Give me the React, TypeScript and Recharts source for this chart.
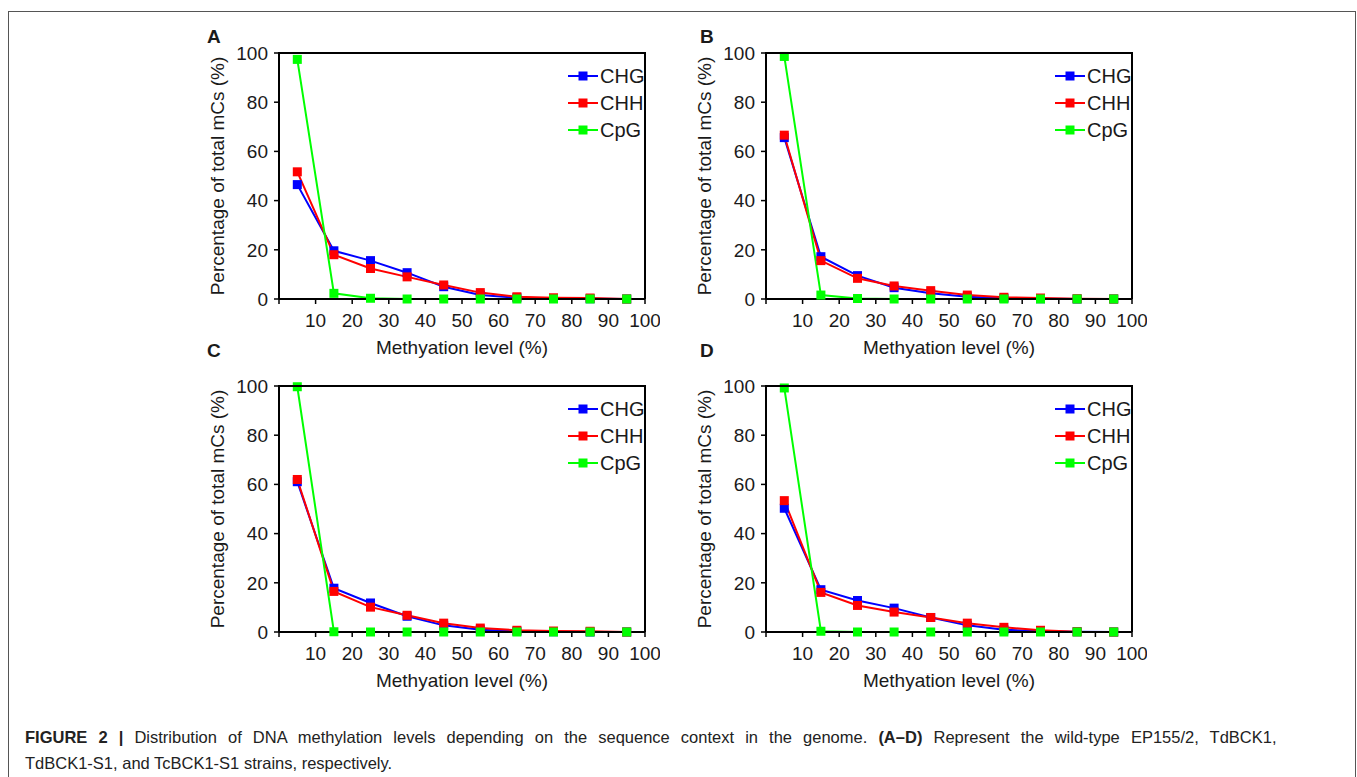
import React from "react";
import { LineChart, Line, XAxis, YAxis, Legend, ReferenceLine } from "recharts";

const levels = [5, 15, 25, 35, 45, 55, 65, 75, 85, 95];
const xTicks = [0, 10, 20, 30, 40, 50, 60, 70, 80, 90, 100];
const yTicks = [0, 20, 40, 60, 80, 100];

const chgA = [46.5, 19.6, 15.6, 10.7, 5.0, 1.6, 0.5, 0.2, 0.1, 0];
const chhA = [51.7, 18.0, 12.4, 9.0, 5.7, 2.6, 0.9, 0.5, 0.4, 0];
const cpgA = [97.4, 2.3, 0.3, 0, 0, 0, 0, 0, 0, 0];

const chgB = [65.6, 17.2, 9.5, 4.6, 2.3, 0.9, 0.3, 0.1, 0, 0];
const chhB = [66.6, 15.6, 8.4, 5.3, 3.4, 1.6, 0.7, 0.4, 0.1, 0];
const cpgB = [98.6, 1.6, 0.2, 0, 0, 0, 0, 0, 0, 0];

const chgC = [61.1, 17.8, 11.8, 6.4, 2.7, 0.9, 0.3, 0.1, 0, 0];
const chhC = [62.0, 16.5, 10.1, 6.8, 3.6, 1.6, 0.7, 0.4, 0.3, 0];
const cpgC = [99.7, 0.1, 0, 0, 0, 0, 0, 0, 0, 0];

const chgD = [50.3, 17.2, 12.8, 9.7, 5.9, 2.7, 0.9, 0.3, 0.1, 0];
const chhD = [53.4, 16.1, 10.8, 8.1, 5.9, 3.6, 1.9, 0.7, 0.1, 0];
const cpgD = [99.2, 0.3, 0, 0, 0, 0, 0, 0, 0, 0];

const SERIES = [
  { key: "CHG", color: "#0000ff" },
  { key: "CHH", color: "#ff0000" },
  { key: "CpG", color: "#00ff00" },
];

const FONT = "'Liberation Sans', Arial, Helvetica, sans-serif";
const TXT = "#1a1a1a";
const AXIS_FS = 19;

const buildRows = (chg: number[], chh: number[], cpg: number[]) =>
  levels.map((lv, i) => ({ level: lv, CHG: chg[i], CHH: chh[i], CpG: cpg[i] }));

const squareDot = (color: string) => (props: any) => {
  const { cx, cy, index } = props;
  if (cx == null || cy == null) return <g key={`d-${index}`} />;
  return <rect key={`d-${index}`} x={cx - 4.5} y={cy - 4.5} width={9} height={9} fill={color} />;
};

function LegendBox(props: any) {
  const items = props.payload || [];
  return (
    <div style={{ fontFamily: FONT }}>
      {items.map((it: any) => (
        <div key={it.value} style={{ display: "flex", alignItems: "center", height: 27 }}>
          <svg width={32} height={14} style={{ display: "block" }}>
            <line x1={0} y1={7} x2={30} y2={7} stroke={it.color} strokeWidth={2} />
            <rect x={10.5} y={2.5} width={9} height={9} fill={it.color} />
          </svg>
          <span style={{ fontSize: 20, color: TXT, lineHeight: "20px" }}>{it.value}</span>
        </div>
      ))}
    </div>
  );
}

const PLOT_W = 366;
const PLOT_H = 246;
const ML = 89;
const MT = 13;
const MR = 15;
const MB = 71;

const frameLine = { stroke: "#000", strokeWidth: 2 };

function Panel({ left, top, rows }: { left: number; top: number; rows: any[] }) {
  return (
    <div style={{ position: "absolute", left: left - ML, top: top - MT }}>
      <LineChart
        width={ML + PLOT_W + MR}
        height={MT + PLOT_H + MB}
        data={rows}
        margin={{ top: MT, right: MR, left: 0, bottom: 0 }}
      >
        <XAxis
          dataKey="level"
          type="number"
          domain={[0, 100]}
          ticks={xTicks}
          tickFormatter={(v: number) => (v === 0 ? "" : String(v))}
          height={MB}
          axisLine={frameLine}
          tickLine={{ stroke: "#000", strokeWidth: 1.5 }}
          tickSize={5}
          tickMargin={10}
          tick={{ fontSize: AXIS_FS, fill: TXT, fontFamily: FONT }}
          interval={0}
          label={{
            content: (p: any) => {
              const vb = p.viewBox || {};
              return (
                <text
                  x={vb.x + vb.width / 2}
                  y={vb.y + 55}
                  textAnchor="middle"
                  fontSize={AXIS_FS}
                  fill={TXT}
                  fontFamily={FONT}
                >
                  Methyation level (%)
                </text>
              );
            },
          }}
        />
        <YAxis
          type="number"
          domain={[0, 100]}
          ticks={yTicks}
          width={ML}
          axisLine={frameLine}
          tickLine={{ stroke: "#000", strokeWidth: 1.5 }}
          tickSize={5}
          tickMargin={6}
          tick={{ fontSize: AXIS_FS, fill: TXT, fontFamily: FONT }}
          interval={0}
          label={{
            content: (p: any) => {
              const vb = p.viewBox || {};
              const x = vb.x + 34;
              const y = vb.y + vb.height / 2;
              return (
                <text
                  x={x}
                  y={y}
                  transform={`rotate(-90, ${x}, ${y})`}
                  textAnchor="middle"
                  fontSize={AXIS_FS}
                  fill={TXT}
                  fontFamily={FONT}
                >
                  Percentage of total mCs (%)
                </text>
              );
            },
          }}
        />
        {/* top and right edges of the plot box */}
        <ReferenceLine y={100} stroke="#000" strokeWidth={2} ifOverflow="visible" />
        <ReferenceLine x={100} stroke="#000" strokeWidth={2} ifOverflow="visible" />
        <Legend
          layout="vertical"
          align="center"
          verticalAlign="middle"
          wrapperStyle={{ left: ML + 289, top: MT + 9, width: 90 }}
          content={<LegendBox />}
        />
        {SERIES.map((s) => (
          <Line
            key={s.key}
            dataKey={s.key}
            name={s.key}
            type="linear"
            stroke={s.color}
            strokeWidth={2}
            dot={squareDot(s.color)}
            activeDot={false}
            isAnimationActive={false}
            legendType="square"
          />
        ))}
      </LineChart>
      <svg
        width={PLOT_W + 4}
        height={PLOT_H + 4}
        style={{ position: "absolute", left: ML - 2, top: MT - 2, pointerEvents: "none" }}
      >
        <polyline
          points={`2,${PLOT_H + 2} 2,2 ${PLOT_W + 2},2 ${PLOT_W + 2},${PLOT_H + 2}`}
          fill="none"
          stroke="#000"
          strokeWidth={2}
        />
      </svg>
    </div>
  );
}

const letterStyle: React.CSSProperties = {
  position: "absolute",
  fontFamily: FONT,
  fontWeight: "bold",
  fontSize: 19,
  lineHeight: "19px",
  color: TXT,
};

const captionStyle: React.CSSProperties = {
  position: "absolute",
  left: 25,
  fontFamily: FONT,
  fontSize: 16.5,
  lineHeight: "20px",
  color: "#222",
  whiteSpace: "nowrap",
};

export default function App() {
  return (
    <div
      style={{
        position: "absolute",
        left: 0,
        top: 0,
        width: 1357,
        height: 777,
        overflow: "hidden",
        background: "#fff",
      }}
    >
      <div
        style={{
          position: "absolute",
          left: 8,
          top: 11,
          width: 1346,
          height: 800,
          border: "1px solid #555",
        }}
      />
      <div style={{ ...letterStyle, left: 207, top: 27 }}>A</div>
      <div style={{ ...letterStyle, left: 700, top: 27 }}>B</div>
      <div style={{ ...letterStyle, left: 207, top: 341 }}>C</div>
      <div style={{ ...letterStyle, left: 700, top: 341 }}>D</div>

      <Panel left={279} top={53} rows={buildRows(chgA, chhA, cpgA)} />
      <Panel left={766} top={53} rows={buildRows(chgB, chhB, cpgB)} />
      <Panel left={279} top={386} rows={buildRows(chgC, chhC, cpgC)} />
      <Panel left={766} top={386} rows={buildRows(chgD, chhD, cpgD)} />

      <div style={{ ...captionStyle, top: 727, wordSpacing: 6.5 }}>
        <b>FIGURE 2 |</b> Distribution of DNA methylation levels depending on the sequence context in the
        genome. <b>(A–D)</b> Represent the wild-type EP155/2, TdBCK1,
      </div>
      <div style={{ ...captionStyle, top: 753 }}>
        TdBCK1-S1, and TcBCK1-S1 strains, respectively.
      </div>
    </div>
  );
}
